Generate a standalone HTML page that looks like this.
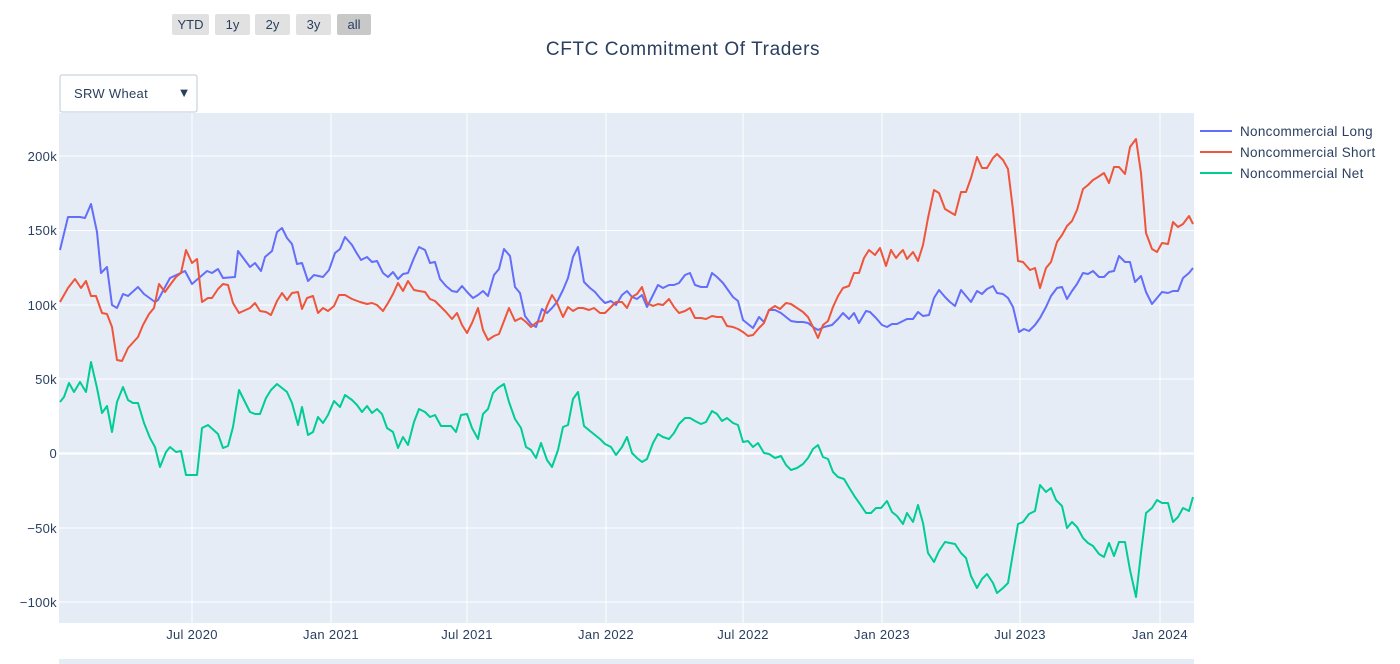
<!DOCTYPE html>
<html><head><meta charset="utf-8"><style>
html,body{margin:0;padding:0;background:#fff;width:1400px;height:664px;overflow:hidden}
svg{display:block;font-family:"Liberation Sans",sans-serif}
</style></head><body>
<svg width="1400" height="664" viewBox="0 0 1400 664">
<rect x="59" y="113" width="1135" height="510" fill="#e5ecf6"/>
<g stroke="#fff" stroke-width="1">
<line x1="192" y1="113" x2="192" y2="623"/><line x1="331" y1="113" x2="331" y2="623"/>
<line x1="467" y1="113" x2="467" y2="623"/><line x1="606" y1="113" x2="606" y2="623"/>
<line x1="743" y1="113" x2="743" y2="623"/><line x1="882" y1="113" x2="882" y2="623"/>
<line x1="1020" y1="113" x2="1020" y2="623"/><line x1="1160" y1="113" x2="1160" y2="623"/>
<line x1="59" y1="156" x2="1194" y2="156"/><line x1="59" y1="230.5" x2="1194" y2="230.5"/>
<line x1="59" y1="305" x2="1194" y2="305"/><line x1="59" y1="379" x2="1194" y2="379"/>
<line x1="59" y1="528" x2="1194" y2="528"/><line x1="59" y1="602" x2="1194" y2="602"/>
</g>
<line x1="59" y1="453.5" x2="1194" y2="453.5" stroke="#fff" stroke-width="2"/>
<g fill="none" stroke-width="2" stroke-linejoin="round">
<polyline stroke="#636efa" points="60,250 68,217 80,217 85,218 91,204 97,232 101,273 107,267 112,305 117,308 123,294 128,296 138,287 144,294 155,302 158,300 170,278 185,271 192,284 207,271 212,273 218,269 223,278 235,277 238,251 250,267 255,263 261,271 265,257 272,251 277,232 282,228 287,238 292,244 297,264 302,263 308,281 314,275 323,277 329,270 335,253 340,249 345,237 352,245 356,252 361,260 367,257 372,262 377,261 383,273 388,277 393,272 398,279 403,274 408,273 414,258 419,247 425,250 430,263 435,262 440,279 446,286 452,291 457,292 462,286 468,293 473,298 478,295 483,291 488,296 494,275 499,269 504,249 510,256 515,287 520,293 525,316 531,324 536,327 542,309 547,313 552,308 557,302 563,290 568,278 573,257 578,247 584,282 590,288 595,292 600,298 605,303 611,301 616,305 622,295 627,291 632,297 637,299 642,295 647,307 653,295 658,285 663,288 669,285 674,285 679,283 685,275 690,273 695,285 701,287 707,287 712,273 717,277 723,283 728,290 733,297 738,301 743,320 748,324 753,328 759,317 764,322 769,310 775,310 781,313 786,317 791,321 797,322 803,322 808,323 813,327 818,330 824,327 832,325 838,319 843,313 849,319 854,313 859,323 866,311 870,312 876,318 882,325 887,327 892,324 897,324 903,321 907,319 913,319 918,312 923,316 929,315 934,298 939,290 945,297 950,302 955,306 961,290 966,296 971,302 977,291 982,294 987,289 993,286 997,293 1003,294 1008,298 1013,307 1019,332 1024,329 1029,331 1035,325 1040,318 1046,307 1051,296 1057,288 1062,287 1067,299 1072,291 1077,284 1083,273 1088,274 1093,271 1099,277 1104,277 1109,272 1114,271 1119,256 1125,262 1130,262 1135,282 1141,276 1146,292 1152,304 1157,298 1162,292 1168,293 1173,291 1178,291 1183,278 1189,273 1193,268"/>
<polyline stroke="#ef553b" points="60,302 68,288 75,279 81,288 86,281 91,296 96,296 102,313 107,314 112,327 117,360 122,361 128,348 138,337 143,325 149,314 154,308 159,284 165,292 170,285 176,277 181,273 186,250 192,263 197,259 202,302 208,298 212,298 218,289 223,284 228,285 233,303 239,313 250,308 255,303 260,311 266,312 271,315 277,301 282,293 287,300 292,293 298,292 302,309 307,298 313,296 318,313 323,308 328,311 334,306 339,295 345,295 352,299 360,302 367,304 372,303 377,305 383,311 388,303 393,294 398,283 403,291 408,281 414,290 419,291 425,292 430,299 435,301 440,306 446,312 452,319 457,313 462,325 467,333 472,323 478,308 483,330 488,340 494,336 499,334 504,321 509,308 515,321 521,318 526,322 531,327 537,322 542,321 547,306 552,295 557,303 563,317 568,307 573,311 578,308 583,308 589,310 594,308 600,313 605,313 611,307 616,302 622,302 627,308 632,297 637,294 642,287 647,303 653,306 658,304 663,305 669,299 674,307 679,313 685,311 690,308 695,318 701,318 706,319 712,316 717,317 722,317 727,326 733,327 738,329 743,332 748,336 753,335 759,328 764,323 769,310 775,306 780,309 786,303 791,304 797,308 803,312 808,317 813,327 818,338 823,325 828,321 833,307 838,296 843,288 849,286 854,273 859,273 864,258 869,250 875,255 880,248 886,266 891,250 896,258 900,253 903,250 907,259 913,252 918,261 923,245 928,218 934,190 939,193 945,209 955,215 961,192 966,192 971,178 977,157 982,168 987,168 993,158 997,154 1003,160 1008,169 1013,210 1018,261 1023,262 1030,270 1035,268 1040,288 1046,268 1051,262 1057,242 1062,235 1067,226 1072,221 1077,210 1083,189 1088,185 1093,180 1098,177 1104,173 1109,183 1114,167 1119,167 1125,174 1130,147 1136,139 1141,173 1146,233 1152,249 1157,252 1162,243 1168,244 1173,222 1178,227 1183,224 1189,216 1193,224"/>
<polyline stroke="#00cc96" points="60,402 64,397 69,383 74,392 80,382 86,392 91,362 97,388 102,413 107,406 112,432 117,402 123,387 128,400 133,403 138,403 144,423 150,438 155,447 160,467 166,452 170,447 176,452 181,451 186,475 197,475 202,428 208,425 218,434 223,448 228,446 233,427 239,390 250,412 255,414 260,414 266,398 271,390 277,384 287,392 292,403 298,425 302,407 308,435 313,432 318,417 323,423 328,415 334,401 340,407 345,395 352,400 357,405 362,412 367,406 372,413 377,409 382,414 387,428 393,432 398,448 403,437 408,445 414,422 419,409 425,412 430,417 435,415 441,426 446,426 451,426 456,432 461,415 467,414 472,428 478,439 483,414 488,409 493,393 498,388 504,384 509,402 515,419 521,428 526,447 531,450 536,458 541,443 547,460 552,467 558,450 563,427 568,425 573,399 578,392 584,426 590,431 595,435 600,439 605,444 611,447 616,455 622,447 627,437 632,453 637,458 642,462 647,459 653,443 658,434 663,437 669,439 674,433 679,424 685,418 690,418 695,421 701,424 706,422 712,411 717,414 722,421 727,418 733,423 738,425 743,442 748,441 753,447 758,443 764,453 769,454 775,458 781,456 786,465 791,470 797,468 803,464 808,458 813,449 818,445 823,457 828,459 833,472 838,477 844,479 850,489 855,497 860,504 866,513 871,513 876,508 881,508 887,501 892,512 897,516 903,524 907,513 913,522 918,505 923,523 928,553 934,562 939,551 945,542 950,543 955,544 961,553 966,558 971,576 977,588 982,579 987,574 993,583 997,593 1003,588 1008,583 1013,553 1018,524 1023,522 1029,514 1035,511 1040,485 1046,492 1051,488 1056,500 1062,506 1067,528 1072,522 1077,527 1083,538 1088,543 1093,546 1099,554 1104,557 1109,543 1114,556 1119,542 1125,542 1130,570 1136,597 1141,553 1146,513 1152,508 1157,500 1162,503 1168,503 1173,522 1178,517 1183,508 1189,511 1193,497"/>
</g>
<g fill="#2a3f5f" font-size="13" text-anchor="end" letter-spacing="0.3">
<text x="57" y="161">200k</text><text x="57" y="235">150k</text><text x="57" y="310">100k</text>
<text x="57" y="384">50k</text><text x="57" y="458">0</text><text x="57" y="533">−50k</text><text x="57" y="607">−100k</text>
</g>
<g fill="#2a3f5f" font-size="13" text-anchor="middle" letter-spacing="0.3">
<text x="192" y="639">Jul 2020</text><text x="331" y="639">Jan 2021</text><text x="467" y="639">Jul 2021</text>
<text x="606" y="639">Jan 2022</text><text x="743" y="639">Jul 2022</text><text x="882" y="639">Jan 2023</text>
<text x="1020" y="639">Jul 2023</text><text x="1160" y="639">Jan 2024</text>
</g>
<text x="683" y="55" fill="#2a3f5f" font-size="19" text-anchor="middle" letter-spacing="0.6">CFTC Commitment Of Traders</text>
<g font-size="13.5" fill="#2a3f5f" letter-spacing="0.3">
<line x1="1200" y1="131" x2="1232" y2="131" stroke="#636efa" stroke-width="2"/><text x="1240" y="136">Noncommercial Long</text>
<line x1="1200" y1="152" x2="1232" y2="152" stroke="#ef553b" stroke-width="2"/><text x="1240" y="157">Noncommercial Short</text>
<line x1="1200" y1="173" x2="1232" y2="173" stroke="#00cc96" stroke-width="2"/><text x="1240" y="178">Noncommercial Net</text>
</g>
<g font-size="13" fill="#2a3f5f" text-anchor="middle">
<rect x="172" y="14" width="37" height="21" rx="2" fill="#e1e1e1"/><text x="190.5" y="29">YTD</text>
<rect x="215" y="14" width="35" height="21" rx="2" fill="#e1e1e1"/><text x="232.5" y="29">1y</text>
<rect x="255" y="14" width="35" height="21" rx="2" fill="#e1e1e1"/><text x="272.5" y="29">2y</text>
<rect x="296" y="14" width="35" height="21" rx="2" fill="#e1e1e1"/><text x="313.5" y="29">3y</text>
<rect x="337" y="14" width="34" height="21" rx="2" fill="#c8c8c8"/><text x="354" y="29">all</text>
</g>
<rect x="60" y="75" width="137" height="37" rx="2" fill="#fff" stroke="#bec8d9" stroke-width="1"/>
<text x="74" y="98" font-size="13" fill="#2a3f5f" letter-spacing="0.3">SRW Wheat</text>
<text x="184" y="97" font-size="13" fill="#2a3f5f" text-anchor="middle">▼</text>
<rect x="59" y="659" width="1135" height="5" fill="#e5ecf6"/>
</svg>
</body></html>
